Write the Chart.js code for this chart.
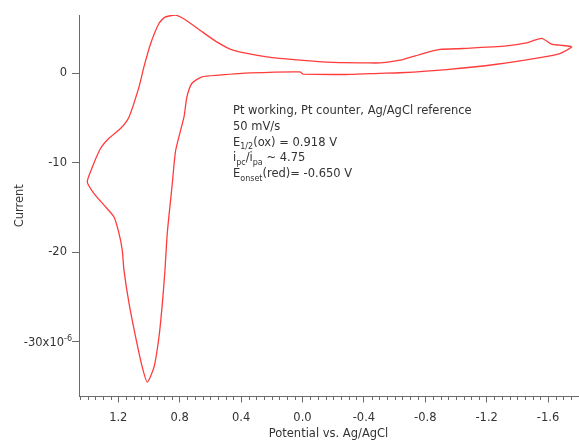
<!DOCTYPE html>
<html>
<head>
<meta charset="utf-8">
<script src="https://cdn.jsdelivr.net/npm/chart.js@4.4.1/dist/chart.umd.min.js"></script>
<style>
  html, body { margin: 0; padding: 0; background: #fff; }
  #wrap { position: relative; width: 579px; height: 440px; }
</style>
</head>
<body>
<div id="wrap"><canvas id="cv"></canvas></div>
<script>
/* ── CV trace (V vs. Ag/AgCl, current in µA) ── */
const potential = [
  -0.003, -0.309, -0.505, -0.635, -0.939, -1.265, -1.547, -1.677, -1.754,
  -1.742, -1.677, -1.623, -1.558, -1.46, -1.330, -1.046, -0.896, -0.785,
  -0.635, -0.505, -0.418, -0.199, 0.016, 0.233, 0.453, 0.559, 0.668,
  0.766, 0.826, 0.896, 0.935, 0.989, 1.033, 1.065, 1.130, 1.184,
  1.261, 1.315, 1.369, 1.402, 1.358, 1.282, 1.228, 1.195, 1.174,
  1.163, 1.130, 1.087, 1.044, 1.011, 0.967, 0.935, 0.913, 0.896,
  0.881, 0.848, 0.826, 0.772, 0.753, 0.720, 0.655, 0.544,
  0.342, 0.016, -0.003
];
const current = [
  -0.11, -0.14, -0.02, 0.05, 0.41, 1.00, 1.75, 2.20, 2.93,
  3.01, 3.13, 3.24, 3.88, 3.39, 3.05, 2.76, 2.65, 2.20,
  1.45, 1.15, 1.15, 1.20, 1.45, 1.82, 2.57, 3.50, 4.80,
  6.00, 6.48, 6.26, 5.55, 3.32, 0.70, -1.53, -4.88, -6.15,
  -7.26, -8.38, -10.47, -12.15, -13.44, -14.94, -16.06, -17.91, -19.78,
  -22.01, -25.70, -29.46, -32.80, -34.49, -32.80, -29.46, -25.70, -22.01,
  -17.88, -12.29, -8.60, -4.88, -2.65, -1.12, -0.41, -0.22,
  0.03, 0.15, -0.11
];

const xMajorStep = 0.4;
const xMinorStep = 0.05;
const yStep = 10;
const yScaledLabel = -30;   // this one carries the x10^-6 exponent

// annotation lines: [text, 'sub' | 'sup' | undefined]
const noteLines = [
  [['Pt working, Pt counter, Ag/AgCl reference']],
  [['50 mV/s']],
  [['E'], ['1/2', 'sub'], ['(ox) = 0.918 V']],
  [['i'], ['pc', 'sub'], ['/i'], ['pa', 'sub'], [' ~ 4.75']],
  [['E'], ['onset', 'sub'], ['(red)= -0.650 V']]
];

const FONT = '"DejaVu Sans", "Liberation Sans", sans-serif';
const INK = '#333';
const AXIS = '#6a6a6a';

/* draw a run of text pieces with sub/superscripts */
function drawRuns(ctx, runs, x, y, size, align) {
    const small = Math.round(size * 0.68);
    let total = 0;
    runs.forEach(([t, m]) => {
        ctx.font = (m ? small : size) + 'px ' + FONT;
        total += ctx.measureText(t).width;
    });
    let cx = align === 'right' ? x - total : x;
    runs.forEach(([t, m]) => {
        ctx.font = (m ? small : size) + 'px ' + FONT;
        const dy = m === 'sub' ? size * 0.3 : m === 'sup' ? -size * 0.38 : 0;
        ctx.fillText(t, cx, y + dy);
        cx += ctx.measureText(t).width;
    });
}

const extras = {
    id: 'extras',
    afterDraw(chart) {
        const { ctx, scales: { x, y }, chartArea } = chart;
        ctx.save();

        // minor ticks on the potential axis
        ctx.strokeStyle = AXIS;
        ctx.lineWidth = 1;
        ctx.beginPath();
        for (let k = Math.ceil(x.min / xMinorStep); k * xMinorStep <= x.max; k++) {
            const v = k * xMinorStep;
            if (Math.abs(v / xMajorStep - Math.round(v / xMajorStep)) < 1e-6) continue;
            const px = Math.round(x.getPixelForValue(v)) + 0.5;
            ctx.moveTo(px, chartArea.bottom);
            ctx.lineTo(px, chartArea.bottom + 3.5);
        }
        ctx.stroke();

        // -30x10^-6 label
        ctx.fillStyle = INK;
        ctx.textBaseline = 'middle';
        ctx.textAlign = 'left';
        const py = y.getPixelForValue(yScaledLabel);
        drawRuns(ctx, [[String(yScaledLabel) + 'x10'], ['-6', 'sup']], 72, py + 1, 11.5, 'right');

        // annotation block
        ctx.textBaseline = 'alphabetic';
        const x0 = 233, y0 = 114, lh = 15.8;
        noteLines.forEach((runs, i) => drawRuns(ctx, runs, x0, y0 + i * lh, 11.5, 'left'));
        ctx.restore();
    }
};

new Chart(document.getElementById('cv'), {
    type: 'scatter',
    data: {
        datasets: [{
            data: potential.map((v, i) => ({ x: v, y: current[i] })),
            showLine: true,
            borderColor: '#ff3c3c',
            borderWidth: 1.3,
            pointRadius: 0,
            tension: 0.2,
            fill: false
        }]
    },
    options: {
        responsive: true,
        maintainAspectRatio: false,
        animation: false,
        layout: { padding: { top: 15, right: 1, left: 0, bottom: 0 } },
        plugins: { legend: { display: false }, tooltip: { enabled: false } },
        scales: {
            x: {
                type: 'linear',
                reverse: true,
                min: -1.795,
                max: 1.456,
                afterFit: s => { s.height = 43.5; },
                border: { display: true, color: AXIS, width: 1 },
                grid: { drawOnChartArea: false, drawTicks: true, tickLength: 6, tickColor: AXIS },
                ticks: {
                    stepSize: xMajorStep,
                    includeBounds: false,
                    autoSkip: false,
                    maxRotation: 0,
                    padding: 9,
                    color: INK,
                    font: { family: FONT, size: 11.5 },
                    callback: v => Math.abs(v) < 1e-9 ? '0.0' : Number(v).toFixed(1)
                },
                title: {
                    display: true,
                    text: 'Potential vs. Ag/AgCl',
                    color: INK,
                    font: { family: FONT, size: 11.5, lineHeight: 1 },
                    padding: { top: 0, bottom: 0 }
                }
            },
            y: {
                type: 'linear',
                min: -36.1,
                max: 6.5,
                afterFit: s => { s.width = 79; },
                border: { display: true, color: AXIS, width: 1 },
                grid: { drawOnChartArea: false, drawTicks: true, tickLength: 7, tickColor: AXIS },
                ticks: {
                    stepSize: yStep,
                    includeBounds: false,
                    padding: 5,
                    color: INK,
                    font: { family: FONT, size: 11.5 },
                    callback: v => v === yScaledLabel ? '' : String(v)
                },
                title: {
                    display: true,
                    text: 'Current',
                    color: INK,
                    font: { family: FONT, size: 11.5, lineHeight: 1.2 },
                    padding: { top: 13, bottom: 0 }
                }
            }
        }
    },
    plugins: [extras]
});
</script>
</body>
</html>
